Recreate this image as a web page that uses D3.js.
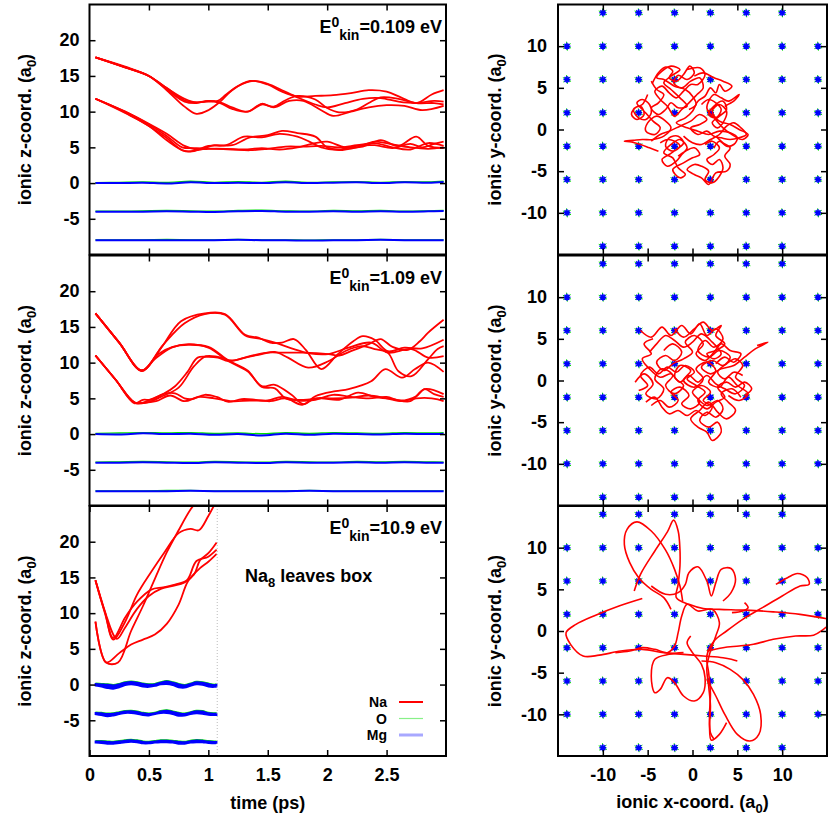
<!DOCTYPE html>
<html><head><meta charset="utf-8">
<script src="https://cdn.jsdelivr.net/npm/d3@7"></script>
<style>
body{margin:0;background:#fff}
text{font-family:"Liberation Sans",Arial,Helvetica,sans-serif;font-weight:bold;fill:#000}
</style>
</head><body><svg id="c" width="830" height="819"></svg>
<script>
// ---------------- DATA ----------------
const tTicks=[0,0.5,1,1.5,2,2.5];
const zTicks=[-5,0,5,10,15,20];
const xyTicks=[-10,-5,0,5,10];
const energyLabels=["0.109","1.09","10.9"];
const latticeCoords=[-14,-10,-6,-2,2,6,10,14];
const speciesNames=["Na","O","Mg"];

// Panel 1 (E=0.109 eV): Na z(t)
const na1_A1=[[0.05,17.6],[0.3,16.2],[0.5,15.0],[0.65,13.3],[0.8,11.6],[0.9,11.3],[1.0,11.4],[1.08,11.5],[1.15,12.4],[1.25,13.6],[1.38,14.3],[1.5,13.9],[1.62,13.0],[1.75,12.0],[1.9,11.0],[2.0,10.6],[2.15,11.2],[2.3,11.8],[2.45,11.9],[2.6,11.4],[2.75,11.2],[2.9,11.5],[2.98,11.4]];
const na1_A2=[[0.05,17.6],[0.3,16.2],[0.5,15.0],[0.65,13.0],[0.8,10.7],[0.9,9.7],[1.0,10.2],[1.1,11.4],[1.2,13.0],[1.35,14.3],[1.5,13.8],[1.62,12.8],[1.75,12.1],[1.9,12.2],[2.05,12.3],[2.2,12.6],[2.35,13.0],[2.5,12.8],[2.62,12.0],[2.75,11.2],[2.88,12.4],[2.98,13.0]];
const na1_A3=[[0.05,17.6],[0.3,16.3],[0.5,15.0],[0.65,13.3],[0.8,11.8],[0.9,11.3],[1.0,11.5],[1.1,11.3],[1.2,10.6],[1.33,10.0],[1.45,11.0],[1.55,10.7],[1.65,11.6],[1.75,12.2],[1.9,11.7],[2.0,10.5],[2.1,9.9],[2.25,10.3],[2.35,11.2],[2.45,12.0],[2.6,11.8],[2.75,11.2],[2.9,11.2],[2.98,11.0]];
const na1_A4=[[0.05,17.6],[0.3,16.2],[0.5,15.0],[0.65,13.1],[0.8,11.4],[0.9,11.2],[1.0,11.5],[1.1,11.2],[1.2,10.4],[1.33,10.0],[1.45,11.1],[1.55,10.6],[1.68,11.5],[1.8,11.5],[1.95,10.2],[2.05,9.4],[2.2,10.0],[2.35,10.6],[2.5,10.9],[2.65,10.8],[2.8,10.2],[2.98,10.8]];
const na1_B1=[[0.05,11.8],[0.3,9.9],[0.5,8.0],[0.65,6.3],[0.78,4.6],[0.85,4.4],[0.95,4.8],[1.05,5.3],[1.2,5.3],[1.35,6.4],[1.5,6.7],[1.62,7.3],[1.75,7.0],[1.9,6.5],[2.0,5.0],[2.1,4.7],[2.25,5.2],[2.4,5.3],[2.55,4.9],[2.7,5.5],[2.8,5.0],[2.9,5.5],[2.98,5.8]];
const na1_B2=[[0.05,11.8],[0.3,9.8],[0.5,8.0],[0.65,6.0],[0.8,4.5],[0.9,4.6],[1.0,5.2],[1.15,5.3],[1.3,6.5],[1.45,6.4],[1.6,6.9],[1.75,6.5],[1.85,5.8],[1.95,5.0],[2.1,4.6],[2.25,5.0],[2.4,5.8],[2.55,5.4],[2.7,5.0],[2.85,4.8],[2.98,5.0]];
const na1_B3=[[0.05,11.8],[0.3,10.0],[0.5,8.3],[0.65,6.9],[0.8,5.2],[0.9,4.7],[1.0,4.8],[1.15,4.8],[1.3,4.7],[1.45,4.9],[1.6,4.7],[1.75,5.0],[1.9,5.6],[2.0,5.8],[2.15,5.0],[2.3,5.1],[2.45,6.0],[2.6,5.2],[2.75,6.5],[2.85,5.2],[2.98,4.9]];
const na1_B4=[[0.05,11.8],[0.3,10.0],[0.5,8.2],[0.65,6.6],[0.78,5.0],[0.9,4.9],[1.05,4.8],[1.2,4.7],[1.35,4.6],[1.5,4.8],[1.65,5.1],[1.8,5.1],[1.95,5.2],[2.1,5.0],[2.25,5.3],[2.4,5.6],[2.55,5.0],[2.7,4.7],[2.85,5.6],[2.98,5.2]];

// Panel 2 (E=1.09 eV)
const na2_C1=[[0.05,16.9],[0.25,12.8],[0.44,8.9],[0.6,12.0],[0.77,15.8],[0.97,16.9],[1.14,16.8],[1.31,13.9],[1.42,13.5],[1.52,12.8],[1.62,12.8],[1.72,13.3],[1.82,11.8],[1.95,9.1],[2.09,11.2],[2.22,13.0],[2.3,13.7],[2.4,13.2],[2.51,11.6],[2.65,12.1],[2.8,12.0],[2.98,13.2]];
const na2_C2=[[0.05,16.9],[0.25,12.8],[0.44,8.8],[0.55,10.5],[0.69,12.1],[0.83,12.6],[1.0,12.1],[1.17,10.2],[1.33,8.8],[1.45,6.7],[1.56,6.9],[1.7,5.5],[1.8,4.2],[1.9,5.3],[2.07,6.0],[2.18,6.3],[2.37,7.4],[2.49,9.1],[2.63,7.9],[2.74,9.1],[2.85,10.0],[2.98,8.7]];
const na2_C3=[[0.05,16.9],[0.25,12.8],[0.44,8.9],[0.58,11.2],[0.7,12.2],[0.83,12.5],[1.0,12.2],[1.17,10.3],[1.33,8.9],[1.45,6.6],[1.56,6.4],[1.65,5.0],[1.8,4.8],[1.95,5.0],[2.1,4.8],[2.26,5.8],[2.4,5.2],[2.55,4.9],[2.7,4.6],[2.82,6.3],[2.98,5.6]];
const na2_C4=[[0.05,16.9],[0.25,12.8],[0.44,8.9],[0.62,12.5],[0.8,15.5],[0.97,16.8],[1.14,16.7],[1.31,13.8],[1.45,13.3],[1.56,12.8],[1.7,12.0],[1.85,11.3],[2.01,11.2],[2.18,12.1],[2.37,12.8],[2.51,11.4],[2.71,11.9],[2.85,10.7],[2.98,10.9]];
const na2_D1=[[0.05,11.0],[0.22,7.6],[0.38,4.4],[0.45,4.4],[0.52,4.9],[0.62,5.6],[0.72,6.7],[0.82,8.6],[0.91,10.7],[1.0,10.8],[1.08,10.7],[1.17,10.2],[1.31,10.7],[1.45,11.2],[1.56,11.5],[1.67,10.7],[1.84,9.3],[2.01,10.2],[2.15,11.6],[2.29,12.3],[2.4,11.9],[2.51,11.4],[2.6,8.8],[2.71,8.1],[2.85,10.5],[2.93,11.9],[2.98,12.3]];
const na2_D2=[[0.05,11.0],[0.22,7.6],[0.38,4.3],[0.45,4.8],[0.52,4.8],[0.62,5.6],[0.72,5.7],[0.8,5.0],[0.86,4.9],[0.97,5.5],[1.07,5.2],[1.17,4.5],[1.28,4.9],[1.4,4.8],[1.52,4.6],[1.65,5.0],[1.79,4.1],[1.9,5.0],[2.05,5.0],[2.2,5.1],[2.35,5.4],[2.5,5.0],[2.63,4.6],[2.75,5.0],[2.88,5.0],[2.98,4.6]];
const na2_D3=[[0.05,11.0],[0.22,7.6],[0.38,4.4],[0.48,4.4],[0.56,4.6],[0.68,5.4],[0.8,4.6],[0.92,5.2],[1.05,5.0],[1.2,4.6],[1.35,4.7],[1.5,4.7],[1.62,5.2],[1.75,4.7],[1.9,4.8],[2.05,5.5],[2.2,5.2],[2.35,5.0],[2.5,5.2],[2.62,4.7],[2.75,5.3],[2.82,6.3],[2.9,5.6],[2.98,5.2]];
const na2_D4=[[0.05,11.0],[0.22,7.6],[0.38,4.4],[0.5,4.5],[0.6,5.2],[0.75,6.5],[0.88,9.5],[0.98,10.9],[1.08,10.8],[1.2,10.3],[1.35,10.9],[1.5,11.4],[1.62,11.4],[1.79,11.4],[2.01,11.2],[2.1,11.0],[2.2,11.6],[2.35,12.6],[2.45,13.3],[2.55,12.2],[2.68,11.8],[2.78,13.0],[2.85,14.2],[2.98,16.0]];

// Panel 3 (E=10.9 eV)
const na3_E1=[[0.05,14.6],[0.13,10.2],[0.2,6.3],[0.3,8.8],[0.4,12.6],[0.52,15.8],[0.63,18.5],[0.75,21.2],[0.85,21.8],[0.92,21.6],[1.0,23.6],[1.07,25.8]];
const na3_E2=[[0.05,14.6],[0.13,10.2],[0.23,6.4],[0.3,8.0],[0.4,10.6],[0.5,12.4],[0.6,13.4],[0.7,13.8],[0.8,14.3],[0.88,15.4],[0.93,17.4],[1.0,18.4],[1.07,19.9]];
const na3_E3=[[0.05,8.8],[0.14,3.1],[0.24,3.1],[0.35,7.5],[0.45,11.0],[0.55,14.8],[0.65,18.5],[0.75,21.6],[0.85,24.5],[0.92,26.0]];
const na3_E4=[[0.05,8.8],[0.14,3.1],[0.25,4.4],[0.35,5.6],[0.45,6.3],[0.55,7.0],[0.65,8.5],[0.75,11.2],[0.83,14.5],[0.93,16.3],[1.0,17.2],[1.07,18.3]];
const na3_E5=[[0.05,14.6],[0.13,10.0],[0.2,6.5],[0.3,9.4],[0.4,11.6],[0.52,13.3],[0.62,13.6],[0.72,14.0],[0.82,14.6],[0.9,17.3],[1.0,17.9],[1.07,18.9]];

// O/Mg layer traces, panels 1 and 2
const layerT=[0.05,0.25,0.45,0.65,0.85,1.05,1.25,1.45,1.65,1.85,2.05,2.25,2.45,2.65,2.85,2.98];
const layerZ=[0,-4,-8];
const mg1_0=[0,0,0.05,-0.05,0.1,0,0.05,0,0.1,0,0.05,0.1,0,0.1,0.05,0.15];
const mg1_4=[0,0,0,0.05,0,-0.05,0.05,0.1,0,0,0.05,0,0.05,0,0.05,0.1];
const mg1_8=[0,0,0,0,0,0,0.05,0,0,-0.05,0,0,0.05,0,0,0];
const o1_0=[0.05,0.1,0.15,0.1,0.25,0.1,0.2,0.1,0.25,0.1,0.15,0.2,0.1,0.2,0.15,0.25];
const o1_4=[0.05,0.05,0.1,0.15,0.1,0.05,0.15,0.2,0.1,0.05,0.15,0.1,0.15,0.05,0.1,0.15];
const o1_8=[0.05,0.05,0.05,0.1,0.05,0.05,0.1,0.05,0.05,0,0.05,0.05,0.1,0.05,0.05,0.05];
const mg2_0=[0,-0.05,0.1,0,0.05,-0.1,0,-0.2,0.05,-0.1,0.05,0,-0.05,0.05,0,0.05];
const mg2_4=[0,0,0.05,0,-0.05,0.05,0,-0.05,0.05,0,0,0.05,0,0.05,0,0];
const mg2_8=[0,0,0,0,0.05,0,0,0,0,0.05,0,0,0,0,0,0];
const o2_0=[0.1,0.15,0.2,0.15,0.2,0.1,0.15,0.05,0.2,0.1,0.2,0.15,0.1,0.2,0.15,0.2];
const o2_4=[0.05,0.1,0.15,0.1,0.05,0.15,0.1,0.05,0.15,0.1,0.05,0.15,0.1,0.15,0.1,0.05];
const o2_8=[0.05,0.05,0.05,0.1,0.1,0.05,0.05,0.05,0.05,0.1,0.05,0.05,0.05,0.05,0.05,0.05];

// O/Mg bands, panel 3
const band3T=[0.05,0.1,0.15,0.2,0.25,0.3,0.35,0.4,0.45,0.5,0.55,0.6,0.65,0.7,0.75,0.8,0.85,0.9,0.95,1.0,1.05,1.07];
const band3Up0=[0.1,0.05,0,-0.1,0.05,0.3,0.4,0.3,0.1,0,0.05,0.3,0.45,0.3,0.05,-0.1,0.1,0.35,0.3,0.1,-0.05,0];
const band3Lo0=[-0.15,-0.3,-0.5,-0.6,-0.4,-0.1,0,-0.1,-0.3,-0.35,-0.2,0,0.05,-0.1,-0.4,-0.45,-0.2,0,-0.05,-0.3,-0.35,-0.3];
const band3Up4=[0.05,0,-0.1,-0.05,0.1,0.25,0.3,0.2,0,-0.1,0,0.25,0.35,0.2,0,-0.1,0.1,0.3,0.25,0,-0.05,-0.05];
const band3Lo4=[-0.15,-0.3,-0.45,-0.35,-0.15,0,0,-0.1,-0.3,-0.35,-0.15,0,0,-0.15,-0.4,-0.35,-0.15,-0.05,-0.1,-0.25,-0.3,-0.3];
const band3Up8=[0.05,0.05,0,-0.05,0.05,0.15,0.25,0.15,0,-0.05,0.05,0.15,0.15,0.1,0,-0.05,0.1,0.2,0.15,0.05,0,0];
const band3Lo8=[-0.15,-0.2,-0.3,-0.3,-0.2,-0.1,-0.05,-0.1,-0.25,-0.25,-0.15,-0.1,-0.1,-0.15,-0.3,-0.3,-0.15,-0.1,-0.1,-0.2,-0.25,-0.2];
const leaveTime=1.075;

// Na xy trajectories, panel 1
const xy1_T1=[[-4.5,5.5],[-3.8,6.8],[-3.0,7.5],[-2.2,7.0],[-2.6,6.2],[-1.8,5.8],[-1.0,6.6],[-0.3,7.6],[0.2,6.8],[-0.6,6.0],[-1.6,6.5],[-2.1,5.6],[-1.2,5.0],[-0.2,5.8],[0.8,6.2],[1.2,5.0],[0.5,4.2],[-0.4,3.2],[-1.2,2.4],[-2.0,1.6],[-2.8,2.8],[-3.6,3.6],[-4.2,4.6],[-3.4,5.2],[-2.6,4.4],[-1.8,3.8],[-1.0,4.6],[-0.2,5.4],[0.6,5.4],[1.4,6.6],[0.8,7.4],[-0.6,7.2]];
const xy1_T2=[[-5.0,4.2],[-5.6,3.0],[-6.4,2.6],[-6.8,1.8],[-6.2,1.2],[-5.4,1.8],[-5.8,2.8],[-6.6,2.4],[-6.0,1.4],[-5.2,1.2],[-4.6,2.0],[-4.8,3.0],[-5.6,3.6],[-6.2,3.2],[-5.4,2.2],[-4.4,1.0],[-3.6,0.2],[-4.2,-0.6],[-5.2,-0.2],[-5.0,0.8],[-4.0,1.6],[-3.0,1.0],[-2.4,0.2],[-3.2,-0.8],[-4.4,-1.2],[-5.6,-1.2],[-6.6,-1.3],[-7.6,-1.4],[-6.8,-1.5],[-5.8,-1.8],[-4.8,-2.2],[-3.8,-2.6]];
const xy1_T3=[[-3.6,-1.6],[-2.8,-1.2],[-2.0,-1.4],[-1.4,-2.0],[-2.2,-2.6],[-3.0,-2.0],[-2.6,-1.0],[-1.6,-0.8],[-1.0,-1.6],[-1.8,-2.4],[-2.6,-3.0],[-3.4,-3.6],[-2.8,-4.4],[-1.8,-3.8],[-1.2,-3.0],[-0.6,-2.2],[-1.4,-1.2],[-2.4,-1.8],[-3.2,-2.8],[-2.2,-3.4],[-1.6,-4.6],[-0.8,-5.4],[-1.4,-5.8],[-2.2,-4.8],[-1.0,-4.0],[0.0,-3.4],[0.8,-3.0],[0.2,-2.2],[-0.8,-2.6],[-1.6,-3.2]];
const xy1_T4=[[1.0,3.0],[1.8,3.6],[2.6,3.2],[3.2,2.4],[2.6,1.4],[1.8,1.8],[2.4,2.8],[3.4,3.4],[3.8,2.4],[3.0,1.6],[2.2,0.8],[2.8,0.2],[3.6,1.2],[3.8,2.2],[3.0,3.0],[2.2,2.2],[3.0,1.0],[4.2,0.6],[5.2,0.0],[6.2,-0.6],[5.6,-1.2],[4.4,-0.6],[3.4,0.2],[2.4,1.4],[1.6,2.6],[2.4,4.2],[3.2,3.8],[4.0,3.4],[5.2,4.2],[4.6,3.4],[3.6,2.8]];
const xy1_T5=[[0.2,6.4],[1.2,6.8],[2.4,6.2],[3.4,5.8],[4.4,5.2],[3.6,4.6],[3.0,5.4],[2.6,4.4],[2.0,5.0],[1.4,4.0],[0.6,3.4],[0.0,2.2],[-0.8,1.4],[-1.8,0.8],[-0.6,0.2],[0.6,-0.2],[1.8,-0.6],[3.0,-0.2],[4.2,-0.4],[5.0,-1.0],[4.6,-1.8],[3.8,-2.0],[3.0,-1.4],[2.4,-2.2]];
const xy1_T6=[[1.4,-1.8],[2.2,-1.4],[3.0,-2.2],[2.4,-3.0],[1.6,-3.6],[2.2,-4.2],[3.0,-3.6],[3.4,-4.6],[3.0,-5.6],[2.2,-6.4],[1.4,-6.0],[1.8,-5.0],[1.0,-4.4],[0.2,-4.2],[-0.6,-4.8],[0.2,-5.4],[1.0,-5.8],[1.8,-6.6],[2.6,-5.2],[3.8,-5.0],[4.2,-4.2],[3.6,-3.2],[4.2,-2.2],[3.4,-1.6],[2.6,-0.8]];
const xy1_T7=[[-4.6,-1.4],[-3.6,-0.6],[-2.6,-0.2],[-1.4,0.4],[-0.2,1.0],[0.8,1.8],[1.6,1.2],[0.8,0.6],[-0.2,0.2],[0.6,-0.6],[1.6,-0.2],[2.4,-0.8],[3.2,-1.0],[4.2,-1.2],[5.2,-1.0],[6.0,-0.6],[5.4,0.2],[4.6,0.8],[3.8,0.4],[3.0,-0.6],[2.0,-1.2],[1.0,-1.8],[0.0,-1.6],[-1.0,-0.8]];
const xy1_T8=[[-4.6,5.8],[-4.0,4.8],[-3.2,4.2],[-3.8,3.2],[-4.6,2.6],[-3.8,1.8],[-3.0,2.4],[-2.4,3.2],[-1.6,2.6],[-0.6,2.8],[-1.4,3.8],[-2.4,4.8],[-3.2,5.6],[-2.4,6.4],[-1.4,7.2],[-2.4,7.6],[-3.4,7.0],[-4.0,6.2],[-3.2,6.0],[-2.0,5.2],[-0.8,4.8],[0.0,4.0],[0.4,3.0],[-0.4,2.4]];

// Na xy trajectories, panel 2
const xy2_U1=[[-5.8,6.0],[-4.6,5.2],[-3.4,6.4],[-2.4,5.4],[-1.2,6.6],[-0.2,5.6],[0.8,6.8],[1.6,5.4],[2.6,6.2],[3.4,5.0],[2.4,4.0],[1.4,4.8],[0.6,3.6],[1.8,2.8],[3.0,3.6],[4.2,2.8],[3.4,1.8],[2.2,2.4],[1.0,1.6],[2.0,0.8],[3.2,1.4],[4.6,1.8],[5.8,2.8],[7.0,3.8],[8.4,4.6],[7.2,4.2]];
const xy2_U2=[[-6.4,-0.2],[-5.4,0.8],[-4.4,-0.4],[-5.2,-1.6],[-4.0,-2.2],[-3.2,-1.0],[-4.2,0.2],[-3.4,1.4],[-2.2,0.6],[-3.0,-0.6],[-2.0,-1.6],[-1.0,-0.6],[-2.0,0.4],[-1.4,1.8],[-0.2,1.2],[-1.0,0.0],[0.2,-0.8],[1.2,0.2],[0.4,1.4],[1.6,2.2],[2.6,1.2],[1.8,-0.2],[3.0,-0.8],[4.0,0.4],[5.0,-0.6],[6.2,-1.6],[5.2,-2.4],[4.0,-1.8]];
const xy2_U3=[[0.6,-2.2],[1.6,-3.0],[2.8,-2.4],[3.4,-3.4],[2.6,-4.4],[1.6,-3.8],[0.8,-4.8],[1.8,-5.6],[2.8,-5.0],[3.2,-6.2],[2.2,-7.2],[1.6,-6.2],[0.6,-5.6],[-0.2,-4.6],[0.8,-3.6],[1.8,-2.6],[2.8,-3.8],[3.8,-4.6],[4.8,-3.6],[4.0,-2.6],[3.2,-1.6],[4.4,-1.0],[5.4,-2.0]];
const xy2_U4=[[-3.2,3.6],[-2.2,4.4],[-1.2,3.4],[-2.0,2.4],[-3.0,3.0],[-4.0,2.2],[-3.2,1.2],[-2.2,2.0],[-1.0,2.6],[0.0,3.4],[-0.8,4.6],[0.2,5.4],[1.2,4.4],[0.4,3.2],[1.4,2.4],[2.4,3.4],[3.2,4.4],[4.2,3.6],[5.4,3.2],[4.6,2.2],[3.6,2.8],[2.6,2.0]];
const xy2_U5=[[-4.6,-3.0],[-3.6,-2.4],[-2.6,-3.2],[-1.6,-2.4],[-2.4,-1.4],[-1.4,-0.8],[-0.4,-1.8],[-1.2,-2.8],[-0.2,-3.4],[0.8,-2.6],[0.0,-1.4],[1.0,-0.6],[2.0,-1.4],[1.2,-2.4],[2.2,-3.2],[1.4,-4.2],[0.4,-3.6],[-0.6,-4.2],[-1.6,-3.6],[-2.6,-4.0],[-3.4,-3.2],[-4.2,-2.0],[-5.2,-2.6]];
const xy2_U6=[[5.6,0.6],[4.6,1.0],[3.6,0.2],[2.8,1.0],[3.8,2.0],[4.8,2.6],[5.6,1.8],[4.8,0.4],[5.8,-0.6],[4.8,-1.6],[3.6,-1.0],[2.6,-0.4],[1.6,0.6],[0.6,-0.2],[-0.4,0.6],[-1.4,-0.2],[-2.4,0.8],[-3.6,0.4],[-4.8,1.4],[-5.6,2.6],[-4.6,3.2],[-5.4,4.4],[-4.4,5.0]];
const xy2_U7=[[-2.0,6.2],[-1.0,5.2],[0.2,6.2],[1.2,7.0],[2.2,6.0],[3.2,6.6],[2.6,5.4],[3.6,4.4],[2.6,3.6],[1.6,3.2],[2.4,2.6],[3.2,3.2],[2.2,4.6],[1.0,5.6],[0.0,4.6],[-1.0,4.0],[-2.0,4.8],[-3.0,5.4],[-4.0,4.4],[-4.8,3.4]];
const xy2_U8=[[-6.0,-1.2],[-5.0,-0.6],[-5.8,0.6],[-4.8,1.6],[-3.8,0.8],[-2.8,1.6],[-1.8,1.0],[-0.8,1.8],[0.2,1.0],[-0.6,0.2],[0.4,-0.6],[1.4,-1.4],[0.6,-2.4],[1.6,-3.4],[2.6,-2.6],[3.6,-2.0],[2.8,-0.8],[3.8,-0.2],[4.8,-0.8],[5.8,-0.2],[6.6,-1.0],[5.8,-1.8]];

// Na xy trajectories, panel 3
const xy3_W1=[[-1.1,3.6],[-1.4,5.4],[-2.0,7.4],[-3.0,9.7],[-4.6,12.0],[-6.2,13.1],[-7.3,12.2],[-7.6,10.4],[-7.0,8.2],[-6.0,6.4],[-4.6,5.0],[-3.2,4.0],[-2.4,2.6]];
const xy3_W2=[[-6.5,4.8],[-5.8,6.8],[-4.2,9.6],[-2.8,11.9],[-2.1,13.3],[-1.6,12.0],[-1.4,9.8],[-1.4,7.8],[-1.6,5.6],[-1.8,4.0],[-0.4,3.2],[1.2,2.7],[3.0,2.6],[6.0,2.5],[9.0,2.3],[12.0,2.0],[15.4,1.4]];
const xy3_W3=[[-4.6,5.4],[-3.0,4.4],[-1.6,4.6],[-0.8,5.6],[-0.4,7.0],[0.6,7.7],[1.6,6.0],[2.1,4.2],[2.6,5.8],[3.2,7.4],[4.3,7.5],[4.8,6.2],[4.3,4.6],[3.4,3.6]];
const xy3_W4=[[-5.6,3.9],[-8.2,3.0],[-10.8,1.9],[-13.0,0.8],[-14.1,-0.2],[-13.6,-1.6],[-12.2,-3.0],[-10.4,-2.9],[-8.0,-2.4],[-5.6,-2.2],[-3.2,-2.6],[-1.0,-2.8],[1.2,-3.0],[3.4,-3.2],[5.0,-3.6]];
const xy3_W5=[[1.6,-2.4],[3.4,-2.0],[5.2,-1.8],[6.8,-1.6],[9.0,-1.0],[11.5,-0.6],[13.5,-0.5],[14.6,0.2],[15.4,0.9]];
const xy3_W6=[[9.3,5.6],[10.6,6.4],[11.7,6.9],[12.8,6.4],[13.0,5.6],[12.0,5.4],[10.0,4.2],[7.8,2.8],[5.6,1.4],[3.8,0.0],[2.4,-1.2],[1.6,-3.0],[1.8,-5.0],[2.0,-7.5],[1.9,-10.0],[2.0,-12.2],[2.4,-13.0]];
const xy3_W7=[[1.6,-5.8],[2.6,-7.8],[3.6,-10.0],[5.0,-12.4],[6.4,-13.2],[7.4,-12.4],[7.6,-10.0],[6.8,-7.6],[5.6,-5.8],[4.2,-4.6],[2.6,-3.8],[1.0,-3.6]];
const xy3_W8=[[-1.0,-2.6],[-2.6,-2.8],[-4.2,-3.4],[-4.6,-5.4],[-4.2,-7.4],[-3.6,-7.0],[-2.8,-5.6],[-2.0,-6.2],[-1.0,-7.8],[0.2,-8.4],[1.2,-7.4],[1.4,-5.6],[1.0,-4.0],[0.0,-2.6],[-0.6,-1.4],[-0.2,-0.6]];
const xy3_W9=[[-8.6,-2.6],[-7.0,-2.4],[-5.6,-2.0],[-4.2,-2.2],[-2.8,-2.6],[-2.0,-1.8],[-1.6,-0.2],[-1.2,1.8],[-0.6,3.2],[0.6,2.4],[2.2,2.6],[3.0,1.0],[2.6,-0.6],[2.0,-2.4],[1.6,-4.4],[1.8,-6.6],[2.0,-9.0],[1.9,-11.4],[2.1,-13.1],[3.0,-12.4],[3.8,-11.0]];
const xy3_W10=[[5.8,3.4],[6.2,2.8],[5.6,2.4],[4.4,2.2]];

// ---------------- LAYOUT ----------------
const svg=d3.select("#c");
const rowTops=[4.5,255.5,506], rowH=250;
const LX=[89.5,446], RX=[558,827];
const tScale=d3.scaleLinear().domain([0,3]).range(LX);
const zScales=rowTops.map(t=>d3.scaleLinear().domain([-10,25]).range([t+rowH,t]));
const xScale=d3.scaleLinear().domain([-15,15]).range(RX);
const yScales=rowTops.map(t=>d3.scaleLinear().domain([-15,15]).range([t+rowH,t]));
const RED="#ff0000", BLUE="#0000ff", GREEN="#00e000";

const defs=svg.append("defs");
function clip(id,x0,x1,y0,y1){defs.append("clipPath").attr("id",id).append("rect").attr("x",x0).attr("y",y0).attr("width",x1-x0).attr("height",y1-y0);}

const naLeft=[
 [na1_A1,na1_A2,na1_A3,na1_A4,na1_B1,na1_B2,na1_B3,na1_B4],
 [na2_C1,na2_C2,na2_C3,na2_C4,na2_D1,na2_D2,na2_D3,na2_D4],
 [na3_E1,na3_E2,na3_E3,na3_E4,na3_E5]];
const layersLeft=[
 [{z:layerZ[0],mg:mg1_0,o:o1_0},{z:layerZ[1],mg:mg1_4,o:o1_4},{z:layerZ[2],mg:mg1_8,o:o1_8}],
 [{z:layerZ[0],mg:mg2_0,o:o2_0},{z:layerZ[1],mg:mg2_4,o:o2_4},{z:layerZ[2],mg:mg2_8,o:o2_8}]];
const bands3=[{z:layerZ[0],up:band3Up0,lo:band3Lo0},{z:layerZ[1],up:band3Up4,lo:band3Lo4},{z:layerZ[2],up:band3Up8,lo:band3Lo8}];
const naRight=[
 [xy1_T1,xy1_T2,xy1_T3,xy1_T4,xy1_T5,xy1_T6,xy1_T7,xy1_T8],
 [xy2_U1,xy2_U2,xy2_U3,xy2_U4,xy2_U5,xy2_U6,xy2_U7,xy2_U8],
 [xy3_W1,xy3_W2,xy3_W3,xy3_W4,xy3_W5,xy3_W6,xy3_W7,xy3_W8,xy3_W9,xy3_W10]];

function styleAxis(g){
  g.select(".domain").remove();
  g.selectAll(".tick line").attr("stroke","#000").attr("stroke-width",1.5);
  g.attr("font-size",null).attr("font-family",null);
  g.selectAll(".tick text").attr("font-size",18).attr("fill","#000");
}
function axes(xs,ys,xt,yt,showX,showY,padY){
  const yb=ys.range()[0], yt0=ys.range()[1], xl=xs.range()[0], xr=xs.range()[1];
  const fmt=d=>String(d);
  svg.append("g").attr("transform",`translate(0,${yb})`).call(d3.axisBottom(xs).tickValues(xt).tickSize(-6).tickPadding(12).tickFormat(showX?fmt:"")).call(styleAxis);
  svg.append("g").attr("transform",`translate(0,${yt0})`).call(d3.axisTop(xs).tickValues(xt).tickSize(-6).tickFormat("")).call(styleAxis);
  svg.append("g").attr("transform",`translate(${xl},0)`).call(d3.axisLeft(ys).tickValues(yt).tickSize(-6).tickPadding(padY).tickFormat(showY?fmt:"")).call(styleAxis);
  svg.append("g").attr("transform",`translate(${xr},0)`).call(d3.axisRight(ys).tickValues(yt).tickSize(-6).tickFormat("")).call(styleAxis);
  svg.append("rect").attr("x",xl).attr("y",yt0).attr("width",xr-xl).attr("height",yb-yt0)
    .attr("fill","none").attr("stroke","#000").attr("stroke-width",2);
}

// ---------------- LEFT PANELS ----------------
for(let p=0;p<3;p++){
  const zs=zScales[p];
  const id="cl"+p; clip(id,LX[0],LX[1],rowTops[p],rowTops[p]+rowH);
  const g=svg.append("g").attr("clip-path",`url(#${id})`);
  if(p<2){
    layersLeft[p].forEach(L=>{
      const ln=(arr)=>d3.line().curve(d3.curveCatmullRom).x((d,i)=>tScale(layerT[i])).y(d=>zs(L.z+d))(arr);
      g.append("path").attr("d",ln(L.o)).attr("fill","none").attr("stroke",GREEN).attr("stroke-width",1.4);
      g.append("path").attr("d",ln(L.mg)).attr("fill","none").attr("stroke",BLUE).attr("stroke-width",2);
    });
  } else {
    bands3.forEach(B=>{
      const ar=d3.area().curve(d3.curveCatmullRom).x((d,i)=>tScale(band3T[i])).y0((d,i)=>zs(B.z+B.lo[i])).y1((d,i)=>zs(B.z+B.up[i]));
      const up=d3.line().curve(d3.curveCatmullRom).x((d,i)=>tScale(band3T[i])).y(d=>zs(B.z+d));
      g.append("path").attr("d",up(B.up)).attr("fill","none").attr("stroke",GREEN).attr("stroke-width",2.6);
      g.append("path").attr("d",ar(B.up)).attr("fill",BLUE).attr("stroke",BLUE).attr("stroke-width",1.6);
    });
    svg.append("line").attr("x1",tScale(leaveTime)).attr("x2",tScale(leaveTime))
      .attr("y1",rowTops[p]).attr("y2",rowTops[p]+rowH).attr("stroke","#bbb").attr("stroke-width",1).attr("stroke-dasharray","1,2");
  }
  const line=d3.line().curve(d3.curveCatmullRom.alpha(0.5)).x(d=>tScale(d[0])).y(d=>zs(d[1]));
  naLeft[p].forEach(s=>g.append("path").attr("d",line(s)).attr("fill","none").attr("stroke",RED).attr("stroke-width",1.8));
  axes(tScale,zs,[0.5,1,1.5,2,2.5].concat(p===2?[0]:[]).sort((a,b)=>a-b),zTicks,p===2,true,10);

  // E label
  const t=svg.append("text").attr("x",442).attr("y",rowTops[p]+28).attr("text-anchor","end").attr("font-size",18);
  t.append("tspan").text("E");
  t.append("tspan").attr("font-size",14).attr("dy",-6).text("0");
  t.append("tspan").attr("font-size",14).attr("dy",13).text("kin");
  t.append("tspan").attr("dy",-7).text("="+energyLabels[p]+" eV");

  // y title
  const yt=svg.append("text").attr("transform",`translate(31,${rowTops[p]+rowH/2}) rotate(-90)`).attr("text-anchor","middle").attr("font-size",18);
  yt.append("tspan").text("ionic z-coord. (a");
  yt.append("tspan").attr("font-size",13).attr("dy",5).text("0");
  yt.append("tspan").attr("dy",-5).text(")");
}

// Na8 leaves box
{
  const t=svg.append("text").attr("x",245).attr("y",582).attr("font-size",18);
  t.append("tspan").text("Na");
  t.append("tspan").attr("font-size",13).attr("dy",5).text("8");
  t.append("tspan").attr("dy",-5).text(" leaves box");
}
// Legend
{
  const lx0=399, lx1=423;
  const items=[{n:speciesNames[0],c:"#ff0000",w:2,y:702,ty:707},{n:speciesNames[1],c:"#88f088",w:1.2,y:718.5,ty:723.5},{n:speciesNames[2],c:"#a8a8ff",w:3,y:735,ty:740}];
  items.forEach(it=>{
    svg.append("text").attr("x",387).attr("y",it.ty).attr("text-anchor","end").attr("font-size",14).text(it.n);
    svg.append("line").attr("x1",lx0).attr("x2",lx1).attr("y1",it.y).attr("y2",it.y).attr("stroke",it.c).attr("stroke-width",it.w);
  });
}
svg.append("text").attr("x",(LX[0]+LX[1])/2).attr("y",809).attr("text-anchor","middle").attr("font-size",18).text("time (ps)");

// ---------------- RIGHT PANELS ----------------
const lattice=[];
latticeCoords.forEach(x=>latticeCoords.forEach(y=>{ if(!(Math.abs(x)===14&&Math.abs(y)===14)) lattice.push([x,y]); }));
function star(r,angles){return angles.map(a=>{const c=Math.cos(a*Math.PI/180)*r,s=Math.sin(a*Math.PI/180)*r;return `M${-c},${-s}L${c},${s}`;}).join("");}
for(let p=0;p<3;p++){
  const ys=yScales[p];
  const id="cr"+p; clip(id,RX[0],RX[1],rowTops[p],rowTops[p]+rowH);
  const g=svg.append("g").attr("clip-path",`url(#${id})`);
  const pts=g.selectAll("g.pt").data(lattice).enter().append("g").attr("transform",d=>`translate(${xScale(d[0])},${ys(d[1])})`);
  pts.append("path").attr("d",star(4.5,[25,85,145])).attr("stroke",GREEN).attr("stroke-width",1);
  pts.append("path").attr("d",star(3.5,[0,45,90,135])).attr("stroke",BLUE).attr("stroke-width",1.5);
  pts.append("circle").attr("r",1.5).attr("fill",BLUE);
  const line=d3.line().curve(d3.curveCatmullRom.alpha(0.5)).x(d=>xScale(d[0])).y(d=>ys(d[1]));
  naRight[p].forEach(s=>g.append("path").attr("d",line(s)).attr("fill","none").attr("stroke",RED).attr("stroke-width",1.6));
  axes(xScale,ys,xyTicks,xyTicks,p===2,true,11);
  const yt=svg.append("text").attr("transform",`translate(501,${rowTops[p]+rowH/2}) rotate(-90)`).attr("text-anchor","middle").attr("font-size",18);
  yt.append("tspan").text("ionic y-coord. (a");
  yt.append("tspan").attr("font-size",13).attr("dy",5).text("0");
  yt.append("tspan").attr("dy",-5).text(")");
}
{
  const t=svg.append("text").attr("x",(RX[0]+RX[1])/2).attr("y",808).attr("text-anchor","middle").attr("font-size",18);
  t.append("tspan").text("ionic x-coord. (a");
  t.append("tspan").attr("font-size",13).attr("dy",5).text("0");
  t.append("tspan").attr("dy",-5).text(")");
}
</script></body></html>
